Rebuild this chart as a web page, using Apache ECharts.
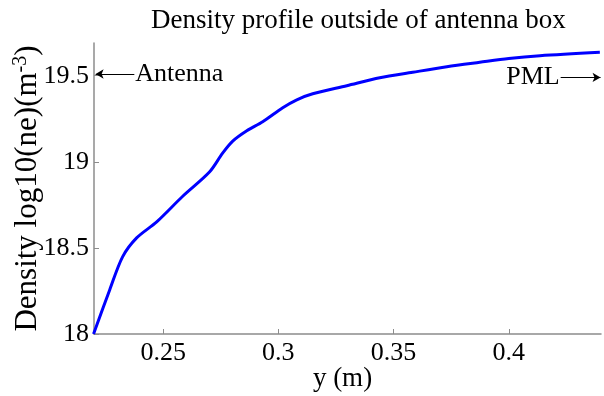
<!DOCTYPE html>
<html>
<head>
<meta charset="utf-8">
<script src="https://cdn.jsdelivr.net/npm/echarts@6/dist/echarts.min.js"></script>
<style>html,body{margin:0;padding:0;background:#fff}#c{width:604px;height:396px}</style>
</head>
<body>
<div id="c"></div>
<script>
const yPos = [0.2198,0.2268,0.2324,0.2385,0.2472,0.2585,0.2702,0.2758,0.2802,0.2863,0.2932,0.3019,0.3080,0.3149,0.3297,0.3440,0.3583,0.3731,0.3874,0.4000,0.4135,0.4395];
const density = [18.0,18.256,18.448,18.558,18.651,18.80,18.942,19.05,19.12,19.18,19.233,19.314,19.36,19.395,19.442,19.488,19.520,19.552,19.578,19.600,19.616,19.636];
const xTicks = [0.25,0.3,0.35,0.4];
const yTicks = [18,18.5,19,19.5];

const FONT = 'Liberation Serif';
const chart = echarts.init(document.getElementById('c'), null, {renderer:'canvas'});
const axisCol = '#8c8c8c';
chart.setOption({
  animation:false,
  backgroundColor:'#fff',
  title:{text:'Density profile outside of antenna box',left:146,top:2,
    textStyle:{fontFamily:FONT,fontSize:27,fontWeight:'normal',color:'#000'}},
  grid:{left:94,right:3,top:43,bottom:62,containLabel:false,outerBoundsMode:'none'},
  xAxis:{type:'value',min:0.22,max:0.44,
    name:'y (m)',nameLocation:'middle',nameGap:31,nameMoveOverlap:false,
    nameTextStyle:{fontFamily:FONT,fontSize:27,color:'#000',padding:[0,10,0,0]},
    axisLine:{lineStyle:{color:axisCol,width:1.5}},
    axisTick:{inside:true,length:5,lineStyle:{color:axisCol},customValues:xTicks},
    splitLine:{show:false},
    axisLabel:{fontFamily:FONT,fontSize:26,color:'#000',margin:6,
      customValues:xTicks,formatter:v=>String(+(+v).toFixed(2))}
  },
  yAxis:{type:'value',min:18,max:19.69,
    name:'{a|Density log10(ne)(m}{s|-3}{a|)}',nameLocation:'middle',nameGap:50,nameRotate:90,nameMoveOverlap:false,
    nameTextStyle:{fontFamily:FONT,fontSize:31,color:'#000',
      rich:{a:{fontFamily:FONT,fontSize:31,color:'#000'},s:{fontFamily:FONT,fontSize:20,color:'#000',verticalAlign:'top',padding:[0,0,13,0]}}},
    axisLine:{show:true,lineStyle:{color:axisCol,width:1.5}},
    axisTick:{show:true,inside:true,length:5,lineStyle:{color:axisCol},customValues:yTicks},
    splitLine:{show:false},
    axisLabel:{fontFamily:FONT,fontSize:26,color:'#000',margin:5,
      customValues:yTicks,formatter:v=>String(+(+v).toFixed(1))}
  },
  series:[{type:'line',data:yPos.map((x,i)=>[x,density[i]]),smooth:0.3,showSymbol:false,
    lineStyle:{color:'#0000ff',width:3},
    markLine:{silent:true,symbol:['none','arrow'],symbolSize:[7,8],
      lineStyle:{color:'#000',width:1,type:'solid'},
      label:{show:true,position:'start',fontFamily:FONT,fontSize:26,color:'#000',distance:1},
      data:[
        [{coord:[0.2375,19.51],name:'Antenna',label:{formatter:'Antenna'}},{coord:[0.2207,19.51]}],
        [{coord:[0.4225,19.49],name:'PML',label:{formatter:'PML'}},{coord:[0.4398,19.49]}]
      ]}
  }]
});
</script>
</body>
</html>
